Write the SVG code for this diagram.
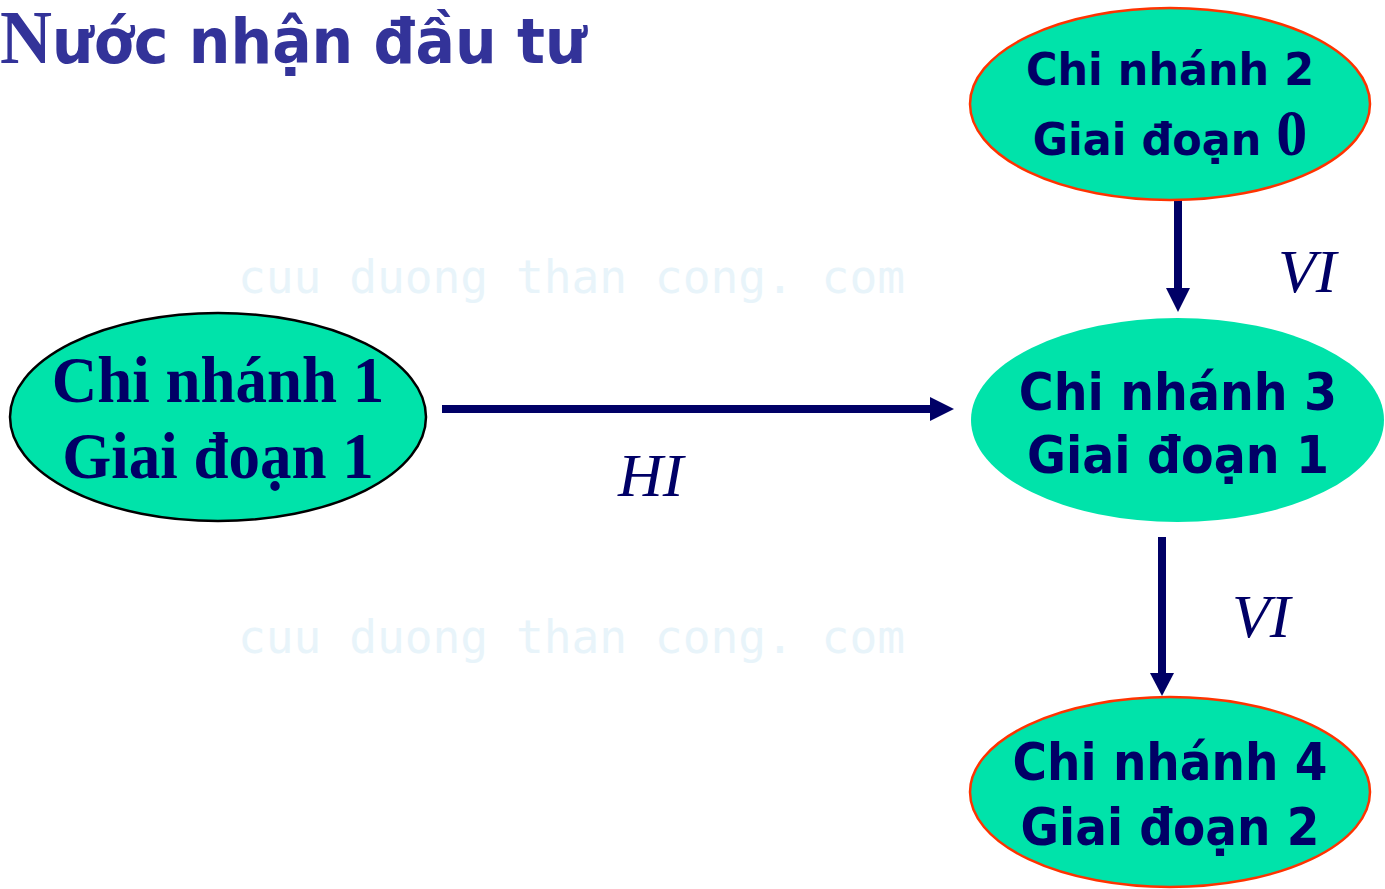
<svg xmlns="http://www.w3.org/2000/svg" width="1385" height="889" viewBox="0 0 1385 889">
<defs>
<style>
.node{fill:#00E3AA;}
.sans{font-family:"DejaVu Sans","Verdana",sans-serif;font-weight:bold;fill:#000066;}
.serif{font-family:"Liberation Serif","Times New Roman",serif;font-weight:bold;fill:#000066;}
.lbl{font-family:"Liberation Serif","Times New Roman",serif;font-style:italic;fill:#000066;font-size:62px;}
.wm{font-family:"DejaVu Sans Mono","Liberation Mono",monospace;fill:#E8F4FA;font-size:46px;}
.conn{stroke:#000066;stroke-width:8;fill:none;}
.head{fill:#000066;}
</style>
</defs>
<rect width="1385" height="889" fill="#FFFFFF"/>
<g id="watermark">
<text class="wm" x="238" y="293" textLength="667" lengthAdjust="spacingAndGlyphs">cuu duong than cong. com</text>
<text class="wm" x="238" y="653" textLength="667" lengthAdjust="spacingAndGlyphs">cuu duong than cong. com</text>
</g>
<g id="title">
<text transform="translate(0,63) scale(1,1.05)" fill="#333399" font-weight="bold"><tspan font-family="Liberation Serif, serif" font-size="72">N</tspan><tspan font-family="DejaVu Sans, Verdana, sans-serif" font-size="58.5">ước nhận đầu tư</tspan></text>
</g>
<g id="connectors">
<line class="conn" x1="442" y1="409" x2="932" y2="409"/>
<polygon class="head" points="930,397 954,409 930,421"/>
<line class="conn" x1="1178" y1="200" x2="1178" y2="290"/>
<polygon class="head" points="1166,288 1190,288 1178,312"/>
<line class="conn" x1="1162" y1="537" x2="1162" y2="675"/>
<polygon class="head" points="1150,673 1174,673 1162,696"/>
<text class="lbl" x="618" y="496">HI</text>
<text class="lbl" x="1278" y="292">VI</text>
<text class="lbl" x="1232" y="637">VI</text>
</g>
<g id="node2">
<ellipse class="node" cx="1170" cy="104" rx="200" ry="96" stroke="#FF3300" stroke-width="2.5"/>
<text class="sans" text-anchor="middle" font-size="43" transform="translate(1170,85) scale(1,1.05)">Chi nhánh 2</text>
<text class="sans" text-anchor="middle" font-size="43" transform="translate(1170,155) scale(1,1.05)">Giai đoạn <tspan class="serif" font-size="62">0</tspan></text>
</g>
<g id="node1">
<ellipse class="node" cx="218" cy="417" rx="208" ry="104" stroke="#000000" stroke-width="2.5"/>
<text class="serif" text-anchor="middle" font-size="63" transform="translate(218,402) scale(1,1.05)">Chi nhánh 1</text>
<text class="serif" text-anchor="middle" font-size="63" transform="translate(218,478) scale(1,1.05)">Giai đoạn 1</text>
</g>
<g id="node3">
<ellipse class="node" cx="1177.5" cy="420" rx="206.5" ry="102"/>
<text class="sans" text-anchor="middle" font-size="47.5" transform="translate(1178,410) scale(1,1.08)">Chi nhánh 3</text>
<text class="sans" text-anchor="middle" font-size="47.5" transform="translate(1178,473) scale(1,1.08)">Giai đoạn 1</text>
</g>
<g id="node4">
<ellipse class="node" cx="1170" cy="792" rx="200" ry="95" stroke="#FF3300" stroke-width="2.5"/>
<text class="sans" text-anchor="middle" font-size="47" transform="translate(1170,780) scale(1,1.08)">Chi nhánh 4</text>
<text class="sans" text-anchor="middle" font-size="47" transform="translate(1170,845) scale(1,1.08)">Giai đoạn 2</text>
</g>
</svg>
